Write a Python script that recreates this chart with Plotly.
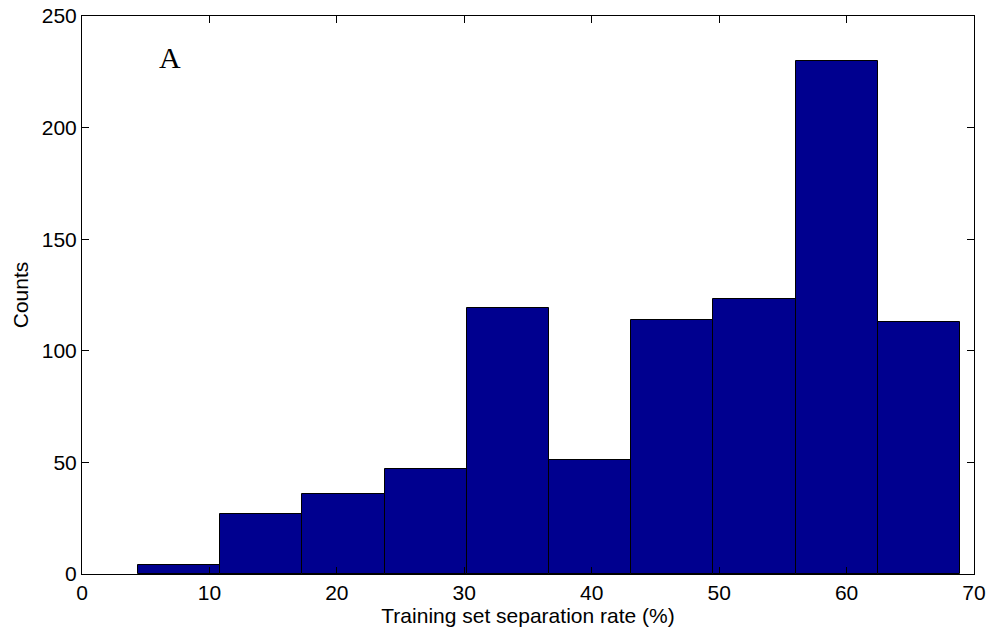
import plotly.graph_objects as go

# Histogram data
bin_start = 4.4
bin_width = 6.45
counts = [4, 27, 36, 47, 119, 51, 114, 123, 230, 113]

x_ticks = [0, 10, 20, 30, 40, 50, 60, 70]
y_ticks = [0, 50, 100, 150, 200, 250]

centers = [bin_start + (i + 0.5) * bin_width for i in range(len(counts))]

fig = go.Figure()
fig.add_trace(go.Bar(
    x=centers, y=counts, width=bin_width,
    marker=dict(color="#00008F", line=dict(color="black", width=1)),
    showlegend=False,
))

font = dict(family="Liberation Sans, Arial", size=21, color="black")
axis_common = dict(
    showgrid=False, zeroline=False, showline=True, linecolor="black", linewidth=1,
    mirror="ticks", ticks="inside", ticklen=7, tickcolor="black",
    tickfont=font, automargin=False, ticklabeloverflow="allow",
)

fig.update_layout(
    width=994, height=632,
    margin=dict(l=82, r=20, t=16, b=58),
    paper_bgcolor="white", plot_bgcolor="white",
    bargap=0,
    xaxis=dict(range=[0, 70], tickvals=x_ticks,
               title=dict(text="Training set separation rate (%)", standoff=1, font=font),
               **axis_common),
    yaxis=dict(range=[0, 250], tickvals=y_ticks,
               title=dict(text="Counts", standoff=7, font=font),
               **axis_common),
    annotations=[dict(text="A", x=6.9, y=231.5, xref="x", yref="y", showarrow=False,
                      font=dict(family="Liberation Serif, Times New Roman", size=30, color="black"))],
)

fig.write_html(
    "out.html",
    config={"displayModeBar": False},
    post_script="document.body.style.margin='0';document.body.style.overflow='hidden';",
)
